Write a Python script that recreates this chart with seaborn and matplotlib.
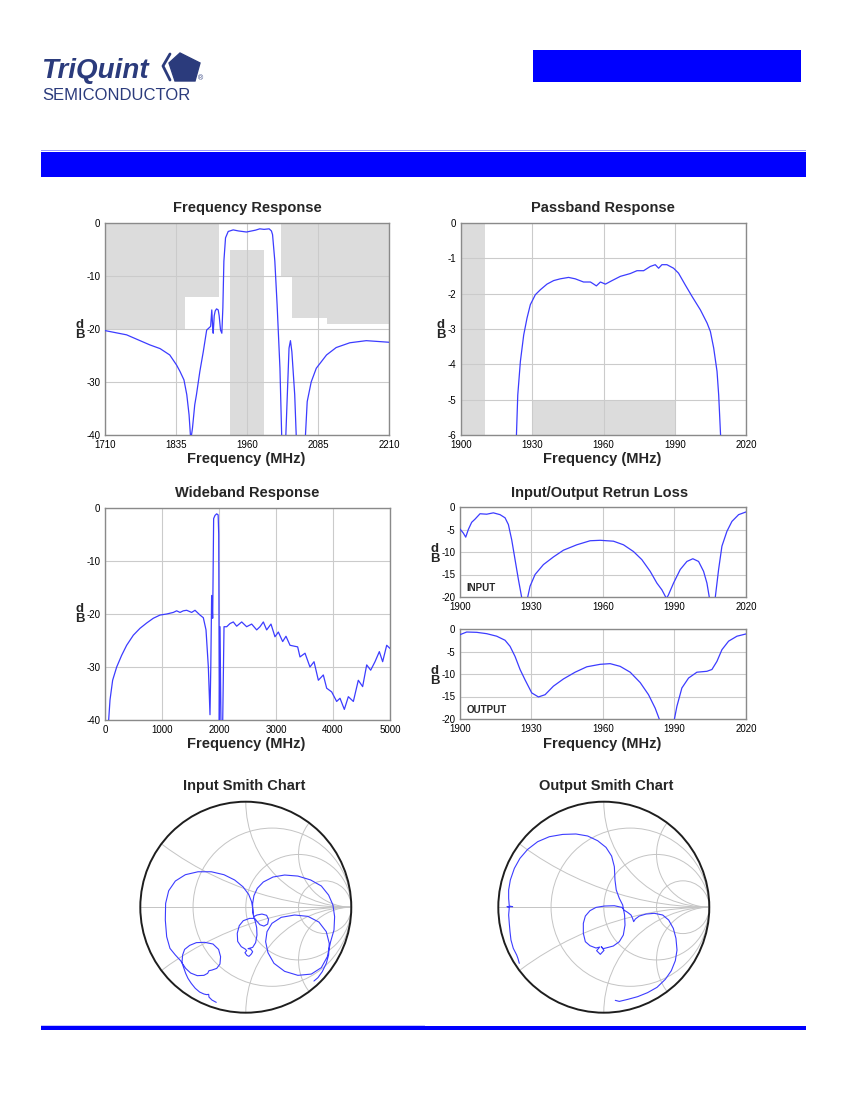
import numpy as np
import matplotlib
matplotlib.use('Agg')
import matplotlib.pyplot as plt
import matplotlib.transforms as mtransforms
from matplotlib.patches import Circle, Polygon, Rectangle
import seaborn as sns
import pandas as pd

# ---------------- data ----------------
freq_mhz = [1710, 1748, 1789, 1807, 1824, 1836, 1842, 1849, 1854, 1858,
            1861, 1864, 1868, 1871, 1877, 1883, 1889, 1893, 1896, 1898,
            1899.5, 1900.5, 1902.3, 1904, 1906.4, 1909.3, 1911, 1913.4, 1915.7, 1917.5,
            1919.3, 1922.2, 1926.9, 1935.7, 1945, 1959, 1975, 1982.5, 1990, 1999,
            2003, 2005, 2009, 2013, 2018, 2022, 2027, 2031, 2034, 2036.5,
            2039, 2044, 2048, 2061, 2066, 2073, 2082, 2100, 2117, 2141,
            2170, 2210]
freq_db = [-20.3, -21.1, -23.0, -23.7, -24.9, -26.8, -28.0, -29.6, -32.4, -36.2,
           -41.0, -38.7, -34.3, -32.4, -28.0, -24.3, -20.2, -19.8, -19.5, -16.4,
           -19.5, -20.8, -17.5, -16.6, -16.2, -16.4, -17.5, -20.2, -20.8, -16.0,
           -7.2, -2.8, -1.6, -1.3, -1.5, -1.7, -1.35, -1.1, -1.2, -1.1,
           -1.5, -2.2, -7.2, -15.4, -27.4, -44, -44, -32.4, -23.6, -22.2,
           -24.3, -32.4, -44, -44, -33.7, -30.0, -27.4, -24.9, -23.5, -22.6,
           -22.2, -22.5]
freq_ticks = [1710, 1835, 1960, 2085, 2210]
db40_ticks = [0, -10, -20, -30, -40]
# spec masks: (start MHz, stop MHz, limit dB)
freq_mask_upper = [(1710, 1850, -20), (1850, 1910, -14), (2020, 2040, -10),
                   (2040, 2100, -18), (2100, 2210, -19)]
freq_mask_lower = [(1930, 1990, -5)]

pass_mhz = [1923.2, 1923.9, 1925, 1926.4, 1927.8, 1929.2, 1931.3, 1933.4, 1936.2, 1939,
            1941.8, 1945.3, 1948.1, 1951.6, 1954.5, 1955.9, 1957, 1958.7, 1960.8, 1963.6,
            1967.1, 1971.3, 1974.1, 1976.9, 1979.7, 1981.8, 1983.2, 1984.6, 1986.7, 1989.5,
            1991.6, 1994.4, 1997.3, 2000.8, 2003.6, 2005, 2006.4, 2007.8, 2008.5, 2009.5]
pass_db = [-6.3, -4.87, -3.92, -3.17, -2.69, -2.31, -2.03, -1.89, -1.73, -1.63,
           -1.58, -1.54, -1.58, -1.67, -1.67, -1.73, -1.78, -1.67, -1.73, -1.63,
           -1.51, -1.43, -1.35, -1.35, -1.23, -1.18, -1.28, -1.18, -1.18, -1.28,
           -1.42, -1.75, -2.08, -2.46, -2.83, -3.07, -3.54, -4.2, -4.87, -6.3]
band_ticks = [1900, 1930, 1960, 1990, 2020]
pass_ticks = [0, -1, -2, -3, -4, -5, -6]
pass_mask_upper = [(1900, 1910, -6)]
pass_mask_lower = [(1930, 1990, -5)]

wide_mhz = [58, 88, 134, 205, 292, 380, 497, 614, 731, 848,
            965, 1082, 1199, 1257, 1316, 1374, 1433, 1520, 1579, 1667,
            1725, 1772, 1813, 1842, 1856, 1871, 1889, 1906, 1930, 1959,
            1985, 1995, 2006, 2018, 2035, 2064, 2088, 2135, 2193, 2251,
            2310, 2398, 2485, 2573, 2661, 2719, 2778, 2836, 2912, 2982,
            3041, 3117, 3175, 3246, 3333, 3380, 3421, 3509, 3596, 3667,
            3743, 3830, 3889, 3977, 4064, 4123, 4199, 4269, 4357, 4444,
            4520, 4591, 4661, 4737, 4813, 4871, 4942, 5000]
wide_db = [-41, -36.2, -32.5, -30.0, -27.8, -25.9, -24.0, -22.7, -21.7, -20.8,
           -20.2, -20.0, -19.7, -19.4, -19.7, -19.4, -19.3, -19.7, -19.3, -20.2,
           -20.7, -23.0, -30.0, -39.0, -30.0, -16.5, -20.8, -2.0, -1.4, -1.1,
           -1.3, -5.0, -41, -22.4, -41, -41, -22.4, -22.4, -21.8, -21.5,
           -22.3, -21.5, -22.4, -21.9, -23.0, -22.4, -21.5, -23.0, -21.9, -24.3,
           -23.4, -25.2, -24.2, -25.9, -26.1, -26.2, -28.1, -27.4, -30.0, -29.0,
           -32.5, -31.5, -34.0, -34.7, -36.5, -35.9, -38.0, -35.6, -36.5, -32.5,
           -33.7, -29.6, -30.6, -29.0, -27.1, -29.0, -25.9, -26.5]
wide_ticks = [0, 1000, 2000, 3000, 4000, 5000]

rl_in_mhz = [1900, 1901.4, 1902.4, 1903.5, 1904.9, 1906.3, 1908.4, 1911.2, 1914, 1916.8,
             1918.9, 1920.3, 1921.7, 1923.1, 1924.5, 1926.2, 1928.0, 1929.4, 1931.5, 1935,
             1939.2, 1943.4, 1949, 1954.6, 1958.8, 1964.4, 1968.6, 1972.8, 1976.3, 1979.8,
             1982.6, 1984.7, 1986.6, 1987.4, 1989.6, 1992.4, 1995.2, 1997.7, 2000.1, 2002.2,
             2003.6, 2004.9, 2006.9, 2008.5, 2009.9, 2012, 2014.1, 2016.9, 2020]
rl_in_db = [-4.9, -5.8, -6.7, -5.0, -3.4, -2.7, -1.5, -1.6, -1.3, -1.7,
            -2.4, -3.9, -7.3, -11.7, -16.1, -21, -21, -17.6, -15.0, -12.8,
            -11.1, -9.6, -8.4, -7.5, -7.4, -7.6, -8.4, -9.9, -11.7, -14.3,
            -16.9, -18.4, -20.3, -19.6, -16.9, -13.9, -12.1, -11.5, -12.1, -14.3,
            -16.9, -21, -21, -13.9, -8.7, -5.4, -3.2, -1.7, -1.1]
rl_out_mhz = [1900, 1902.8, 1907, 1911.2, 1915.4, 1918.9, 1921, 1923.1, 1925.2, 1927.3,
              1930.1, 1932.9, 1935.7, 1939.2, 1943.4, 1948.3, 1953.2, 1958.8, 1963, 1967.2,
              1971.4, 1975.6, 1979.1, 1981.9, 1984.3, 1989.6, 1991, 1993.1, 1995.9, 1999.4,
              2003.6, 2005.7, 2007.8, 2009.9, 2012.7, 2016.2, 2020]
rl_out_db = [-1.26, -0.67, -0.74, -1.04, -1.6, -2.5, -3.85, -6.1, -9.0, -11.3,
             -14.2, -15.1, -14.6, -12.7, -11.1, -9.6, -8.4, -7.85, -7.7, -8.3,
             -9.6, -11.9, -14.6, -17.6, -21, -21, -17.2, -13.1, -10.9, -9.6,
             -9.4, -9.0, -7.2, -4.6, -2.7, -1.6, -1.1]
rl_ticks = [0, -5, -10, -15, -20]

# reflection coefficient traces (real, imag)
smith_in_re = [-0.280, -0.321, -0.349, -0.352, -0.371, -0.397, -0.438, -0.479, -0.517, -0.548,
               -0.570, -0.589, -0.605,
               -0.599, -0.580, -0.532, -0.469, -0.390, -0.311, -0.258, -0.239, -0.245, -0.276,
               -0.321, -0.349, -0.362, -0.397, -0.460, -0.523, -0.570, -0.602, -0.618,
               -0.668, -0.719, -0.750, -0.763, -0.760, -0.731, -0.668, -0.573, -0.453, -0.327,
               -0.207, -0.106, -0.027, 0.027, 0.055, 0.068, 0.074,
               0.106, 0.153, 0.197, 0.216, 0.207, 0.172, 0.134, 0.106, 0.084,
               0.036, -0.024, -0.062, -0.081, -0.077, -0.043, -0.005, 0.008, -0.008, 0.011,
               0.030, 0.052, 0.065, 0.046, 0.021, 0.065, 0.093, 0.106, 0.103, 0.090, 0.077,
               0.065, 0.065, 0.077, 0.109, 0.166, 0.258, 0.368, 0.494, 0.615, 0.716,
               0.785, 0.826, 0.842, 0.836, 0.804,
               0.773, 0.716, 0.621, 0.494, 0.368, 0.267, 0.210, 0.188, 0.201, 0.248,
               0.336, 0.463, 0.589, 0.693, 0.763, 0.791, 0.785,
               0.763, 0.725, 0.684, 0.646]
smith_in_im = [-0.902, -0.880, -0.852, -0.826, -0.829, -0.823, -0.804, -0.769, -0.722, -0.675,
               -0.627, -0.573, -0.526,
               -0.453, -0.400, -0.362, -0.336, -0.333, -0.349, -0.400, -0.469, -0.539, -0.580,
               -0.596, -0.602, -0.627, -0.646, -0.649, -0.624, -0.580, -0.532, -0.507,
               -0.453, -0.390, -0.280, -0.122, 0.036, 0.156, 0.248, 0.308, 0.336, 0.336,
               0.308, 0.258, 0.194, 0.122, 0.052, -0.027, -0.090,
               -0.074, -0.065, -0.077, -0.115, -0.160, -0.179, -0.166, -0.134, -0.106,
               -0.106, -0.128, -0.175, -0.248, -0.324, -0.374, -0.397, -0.412, -0.431, -0.457,
               -0.466, -0.444, -0.422, -0.397, -0.393, -0.381, -0.336, -0.264, -0.194, -0.137, -0.096,
               -0.043, 0.036, 0.109, 0.179, 0.239, 0.286, 0.305, 0.295, 0.258, 0.201,
               0.115, 0.021, -0.090, -0.216, -0.327,
               -0.469, -0.573, -0.634, -0.646, -0.608, -0.532, -0.431, -0.327, -0.232, -0.153,
               -0.096, -0.074, -0.087, -0.141, -0.232, -0.343, -0.453,
               -0.532, -0.611, -0.668, -0.700]
smith_out_re = [-0.801, -0.814, -0.826, -0.858, -0.880, -0.889, -0.896, -0.902, -0.896, -0.918,
                -0.864, -0.896, -0.902, -0.902, -0.886, -0.848, -0.795, -0.722, -0.627, -0.517,
                -0.390, -0.264, -0.153, -0.058, 0.021, 0.074, 0.100, 0.106, 0.118, 0.147, 0.179,
                0.197, 0.201, 0.185, 0.147, 0.090, 0.030, -0.005,
                -0.024, 0.002, -0.033, -0.068, -0.039, -0.074,
                -0.131, -0.175, -0.194, -0.194, -0.175, -0.131, -0.074, 0.005, 0.100, 0.172, 0.191,
                0.226, 0.258, 0.273, 0.283, 0.299, 0.336, 0.400, 0.479, 0.558, 0.615,
                0.659, 0.684, 0.694, 0.678, 0.640, 0.583, 0.504, 0.415, 0.321, 0.226,
                0.147, 0.109]
smith_out_im = [-0.532, -0.485, -0.453, -0.390, -0.311, -0.232, -0.153, -0.074, -0.002, 0.005,
                0.005, 0.011, 0.084, 0.163, 0.258, 0.368, 0.463, 0.548, 0.621, 0.668,
                0.690, 0.694, 0.675, 0.630, 0.567, 0.485, 0.384, 0.258, 0.163, 0.084, 0.021,
                -0.074, -0.169, -0.264, -0.327, -0.368, -0.384, -0.393,
                -0.374, -0.409, -0.447, -0.412, -0.378, -0.387,
                -0.365, -0.327, -0.248, -0.153, -0.084, -0.033, -0.002, 0.011, 0.014, -0.002, -0.027,
                -0.049, -0.074, -0.106, -0.137, -0.112, -0.084, -0.065, -0.058, -0.074, -0.122,
                -0.201, -0.295, -0.406, -0.507, -0.602, -0.684, -0.760, -0.810, -0.848, -0.874,
                -0.893, -0.883]
smith_r = [1 / 3, 1, 3]
smith_x = [1 / 3, 1, 2]

# ---------------- style ----------------
sns.set_style('white')
plt.rcParams['font.family'] = ['Liberation Sans', 'DejaVu Sans']
plt.rcParams['axes.unicode_minus'] = False

LINE = '#3c3cff'
MASK = '#dcdcdc'
GRID = '#cbcbcb'
FRAME = '#8a8a8a'
NAVY = '#2b3b7c'
BLUE = '#0000ff'

W, H = 850, 1100
fig = plt.figure(figsize=(8.5, 11), dpi=100)
px = mtransforms.Affine2D().scale(1 / W, -1 / H).translate(0, 1) + fig.transFigure


def box(x0, y0, x1, y1):
    return [x0 / W, 1 - y1 / H, (x1 - x0) / W, (y1 - y0) / H]


def label(x, y, s, **kw):
    fig.text(x, y, s, transform=px, **kw)


def db_axes(rect, x, y, xlim, ylim, xticks, yticks):
    ax = fig.add_axes(rect)
    df = pd.DataFrame({'f': x, 'db': y})
    sns.lineplot(data=df, x='f', y='db', ax=ax, color=LINE, lw=0.9,
                 sort=False, estimator=None, zorder=3)
    ax.set_xlim(xlim)
    ax.set_ylim(ylim)
    ax.set_xticks(xticks, labels=[str(t) for t in xticks])
    ax.set_yticks(yticks, labels=[str(t) for t in yticks])
    ax.tick_params(length=0, labelsize=7, pad=3.5, colors='black')
    ax.grid(True, color=GRID, lw=0.8)
    ax.set_axisbelow('line')
    for s in ax.spines.values():
        s.set_color(FRAME)
        s.set_linewidth(1.0)
    ax.set_xlabel('')
    ax.set_ylabel('')
    return ax


def masks(ax, upper, lower, ytop, ybot):
    for f1, f2, lim in upper:
        ax.fill_between([f1, f2], lim, ytop, color=MASK, lw=0, zorder=1)
    for f1, f2, lim in lower:
        ax.fill_between([f1, f2], ybot, lim, color=MASK, lw=0, zorder=1)


title_kw = dict(ha='center', va='baseline', fontsize=10.5, fontweight='bold')
xlab_kw = dict(ha='center', va='baseline', fontsize=10.5, fontweight='bold')
db_kw = dict(ha='center', va='center', fontsize=9.5, fontweight='bold', linespacing=0.85)

# ---------------- header ----------------
label(41, 78, 'TriQuint', fontsize=20, fontweight='bold', style='italic', color=NAVY)
label(42, 100, 'SEMICONDUCTOR', fontsize=12, color=NAVY)
label(198, 80, '®', fontsize=5, color=NAVY)
fig.add_artist(Polygon([(180, 53), (200, 63), (195, 81), (175, 81), (169, 63)],
                       closed=True, transform=px, color=NAVY))
fig.add_artist(plt.Line2D([170, 163, 170], [54, 66, 80], transform=px,
                          color=NAVY, lw=2.0))
fig.add_artist(Rectangle((533, 50), 268, 32, transform=px, color=BLUE, lw=0))
fig.add_artist(Rectangle((41, 150), 765, 1.2, transform=px, color='#9a9aff', lw=0))
fig.add_artist(Rectangle((41, 151.5), 765, 25.5, transform=px, color=BLUE, lw=0))

# ---------------- frequency response ----------------
ax = db_axes(box(105, 223, 389, 435), freq_mhz, freq_db, (1710, 2210), (-40, 0),
             freq_ticks, db40_ticks)
masks(ax, freq_mask_upper, freq_mask_lower, 0, -40)
label(247, 212, 'Frequency Response', **title_kw)
label(246, 463, 'Frequency (MHz)', **xlab_kw)
label(80, 330, 'd\nB', **db_kw)

# ---------------- passband response ----------------
ax = db_axes(box(461, 223, 746, 435), pass_mhz, pass_db, (1900, 2020), (-6, 0),
             band_ticks, pass_ticks)
masks(ax, pass_mask_upper, pass_mask_lower, 0, -6)
label(603, 212, 'Passband Response', **title_kw)
label(602, 463, 'Frequency (MHz)', **xlab_kw)
label(441, 330, 'd\nB', **db_kw)

# ---------------- wideband response ----------------
ax = db_axes(box(105, 508, 390, 720), wide_mhz, wide_db, (0, 5000), (-40, 0),
             wide_ticks, db40_ticks)
label(247, 497, 'Wideband Response', **title_kw)
label(246, 748, 'Frequency (MHz)', **xlab_kw)
label(80, 614, 'd\nB', **db_kw)

# ---------------- return loss ----------------
ax = db_axes(box(460, 507, 746, 597), rl_in_mhz, rl_in_db, (1900, 2020), (-20, 0),
             band_ticks, rl_ticks)
ax.text(0.022, 0.07, 'INPUT', transform=ax.transAxes, fontsize=7, fontweight='bold')
label(435, 554, 'd\nB', **db_kw)
ax = db_axes(box(460, 629, 746, 719), rl_out_mhz, rl_out_db, (1900, 2020), (-20, 0),
             band_ticks, rl_ticks)
ax.text(0.022, 0.07, 'OUTPUT', transform=ax.transAxes, fontsize=7, fontweight='bold')
label(435, 676, 'd\nB', **db_kw)
label(600, 497, 'Input/Output Retrun Loss', **title_kw)
label(602, 748, 'Frequency (MHz)', **xlab_kw)


# ---------------- smith charts ----------------
def smith_axes(rect, re, im):
    ax = fig.add_axes(rect)
    ax.set_xlim(-1.02, 1.02)
    ax.set_ylim(-1.02, 1.02)
    ax.set_aspect('equal')
    ax.axis('off')
    clip = Circle((0, 0), 1, transform=ax.transData)
    ax.plot([-1, 1], [0, 0], color='#c4c4c4', lw=0.7, zorder=1)
    for r in smith_r:
        ax.add_patch(Circle((r / (1 + r), 0), 1 / (1 + r), fill=False,
                            ec='#c4c4c4', lw=0.7, zorder=1))
    for x in smith_x:
        for s in (1, -1):
            c = Circle((1, s / x), 1 / x, fill=False, ec='#c4c4c4', lw=0.7, zorder=1)
            ax.add_patch(c)
            c.set_clip_path(clip)
    ax.add_patch(Circle((0, 0), 1, fill=False, ec='#1e1e1e', lw=1.4, zorder=4))
    df = pd.DataFrame({'re': re, 'im': im})
    sns.lineplot(data=df, x='re', y='im', ax=ax, color=LINE, lw=0.8,
                 sort=False, estimator=None, zorder=3)
    ax.set_xlabel('')
    ax.set_ylabel('')
    return ax


smith_axes(box(138.2, 799.6, 353.4, 1014.8), smith_in_re, smith_in_im)
smith_axes(box(496.2, 799.6, 711.4, 1014.8), smith_out_re, smith_out_im)
label(244, 790, 'Input Smith Chart', **title_kw)
label(606, 790, 'Output Smith Chart', **title_kw)

# ---------------- footer line ----------------
fig.add_artist(Rectangle((41, 1024.8), 384, 1.0, transform=px, color='#c8c8ff', lw=0))
fig.add_artist(Rectangle((41, 1026), 765, 3.5, transform=px, color=BLUE, lw=0))

fig.savefig('out.png', dpi=100)
